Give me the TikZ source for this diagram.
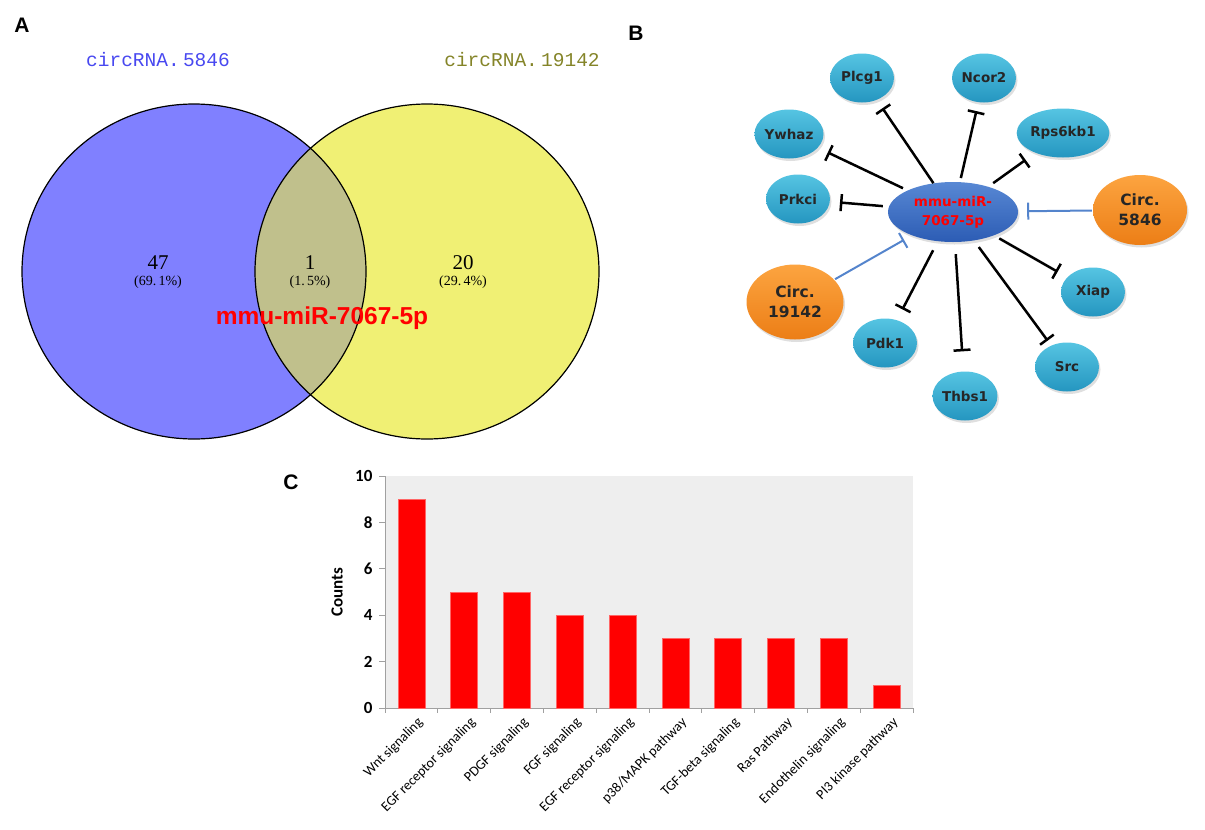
\documentclass[tikz,border=0pt]{standalone}
\usepackage{fontspec}
\setmainfont{Liberation Sans}
\newfontfamily\vennfont{Liberation Mono}
\newfontfamily\numfont{Liberation Serif}
\newfontfamily\netfont{DejaVu Sans}
\newfontfamily\chartfont{Carlito}
\usetikzlibrary{arrows.meta,shapes,shadows}
\definecolor{vennblue}{RGB}{128,128,255}
\definecolor{vennyellow}{RGB}{240,240,116}
\definecolor{vennboth}{RGB}{192,192,140}
\definecolor{labblue}{RGB}{72,72,240}
\definecolor{labolive}{RGB}{132,132,40}
\definecolor{tealtop}{RGB}{86,196,226}
\definecolor{tealbot}{RGB}{36,150,192}
\definecolor{orangetop}{RGB}{252,164,64}
\definecolor{orangebot}{RGB}{236,126,22}
\definecolor{mirtop}{RGB}{88,136,212}
\definecolor{mirbot}{RGB}{44,92,180}
\definecolor{circline}{RGB}{84,132,204}
\definecolor{chartbg}{RGB}{238,238,238}
\definecolor{axisgrey}{RGB}{160,160,160}
\tikzstyle{panel}=[font=\bfseries\fontsize{21}{24}\selectfont]
\tikzstyle{setlabel}=[font=\vennfont\fontsize{19.5}{22}\selectfont]
\tikzstyle{count}=[font=\numfont\fontsize{21}{23}\selectfont]
\tikzstyle{share}=[font=\numfont\fontsize{14}{16}\selectfont]
\tikzstyle{target}=[ellipse,minimum width=64pt,minimum height=49pt,inner sep=0pt,
  top color=tealtop,bottom color=tealbot,text=black!85,
  drop shadow={shadow xshift=1.5pt,shadow yshift=-2.5pt,opacity=0.25},
  font=\netfont\bfseries\fontsize{13.5}{15}\selectfont]
\tikzstyle{circ}=[target,minimum width=94pt,minimum height=70pt,
  top color=orangetop,bottom color=orangebot,
  font=\netfont\bfseries\fontsize{15.5}{20}\selectfont,align=center]
\tikzstyle{mirna}=[target,minimum width=130pt,minimum height=60pt,
  top color=mirtop,bottom color=mirbot,text=red,
  font=\netfont\bfseries\fontsize{13.5}{19}\selectfont,align=center]
\tikzstyle{inhibit}=[draw,line width=2.5pt,-{Bar[width=17pt,line width=2.5pt]}]
\tikzstyle{circedge}=[draw,circline,line width=2pt,-{Bar[width=17pt,line width=2pt]},
  shorten <=1pt,shorten >=9pt]
\tikzstyle{ytick}=[font=\chartfont\bfseries\fontsize{17}{19}\selectfont,anchor=east]
\tikzstyle{xlab}=[font=\chartfont\fontsize{14}{15}\selectfont,rotate=45,anchor=north east,inner sep=0pt]
\tikzstyle{bar}=[fill=red,draw=red!60!white,line width=0.6pt]

\begin{document}
\begin{tikzpicture}[x=1pt,y=-1pt]
    \useasboundingbox (0,0) rectangle (1205,830);
    % A: the Venn diagram
    \node[panel] (labA) at (22,25) {A};
    \fill[vennblue] (194,271.5) ellipse [x radius=172,y radius=167.5];
    \fill[vennyellow] (427,271.5) ellipse [x radius=172,y radius=167.5];
    \begin{scope}
        \clip (194,271.5) ellipse [x radius=172,y radius=167.5];
        \fill[vennboth] (427,271.5) ellipse [x radius=172,y radius=167.5];
    \end{scope}
    \draw[line width=1.2pt] (194,271.5) ellipse [x radius=172,y radius=167.5];
    \draw[line width=1.2pt] (427,271.5) ellipse [x radius=172,y radius=167.5];
    \node[setlabel,text=labblue] (setA) at (158,60) {circRNA.\,5846};
    \node[setlabel,text=labolive] (setB) at (522,60) {circRNA.\,19142};
    \foreach \x/\n/\p/\name in {158/47/69.\,1/onlyA, 310/1/1.\,5/both, 463/20/29.\,4/onlyB} {
        \node[count] (\name) at (\x,263) {\n};
        \node[share] (\name p) at (\x,282) {(\p\%)};
    }
    \node[text=red,font=\bfseries\fontsize{24.5}{28}\selectfont] (shared) at (322,318) {mmu-miR-7067-5p};

    % B: the regulatory network
    \node[panel] (labB) at (636,33) {B};
    \node[mirna] (mir) at (953,212) {mmu-miR-\\7067-5p};
    \foreach \pos/\name in {{(862,78)/Plcg1}, {(984,78)/Ncor2}, {(1063,133)/Rps6kb1},
        {(789,134)/Ywhaz}, {(798,199)/Prkci}, {(1093,292)/Xiap}, {(885,343)/Pdk1},
        {(965,396)/Thbs1}, {(1067,367)/Src}}
        \node[target] (\name) at \pos {\name};
    \node[circ] (c5846) at (1140,210) {Circ.\\5846};
    \node[circ,minimum width=97pt,minimum height=75pt] (c19142) at (795,302) {Circ.\\19142};
    % Inhibitions from the miRNA to its targets
    \foreach \dest/\ga/\gb in {Plcg1/0/10, Ncor2/4/9, Rps6kb1/6/12, Ywhaz/5/11, Prkci/6/10,
        Xiap/6/11, Pdk1/10/12, Thbs1/12/20, Src/8/6}
        \path[inhibit,shorten <=\ga pt,shorten >=\gb pt] (mir) -- (\dest);
    % Inhibitions from the circRNAs to the miRNA
    \foreach \source in {c5846, c19142}
        \path[circedge] (\source) -- (mir);

    % C: the pathway counts
    \node[panel] (labC) at (291,482) {C};
    \fill[chartbg] (385,476) rectangle (913,708);
    \draw[axisgrey,line width=0.8pt] (385,476) -- (385,708) -- (913,708);
    \foreach \v in {0,2,...,10} {
        \draw[axisgrey,line width=0.8pt] (379,{708-23.2*\v}) -- (385,{708-23.2*\v});
        \node[ytick] (yt\v) at (376,{708-23.2*\v}) {\v};
    }
    \foreach \i in {0,...,10}
        \draw[axisgrey,line width=0.8pt] ({385+52.8*\i},708) -- ++(0,5);
    \node[font=\chartfont\bfseries\fontsize{17}{19}\selectfont,rotate=90] (ylab) at (337,592) {Counts};
    \foreach \i/\val/\lab in {0/9/Wnt signaling, 1/5/EGF receptor signaling, 2/5/PDGF signaling,
        3/4/FGF signaling, 4/4/EGF receptor signaling, 5/3/{p38/MAPK pathway},
        6/3/TGF-beta signaling, 7/3/Ras Pathway, 8/3/Endothelin signaling, 9/1/PI3 kinase pathway} {
        \pgfmathsetmacro\xc{385+26.4+52.8*\i}
        \path[bar] ({\xc-13.5},708) rectangle ({\xc+13.5},{708-23.2*\val});
        \node[xlab] (xl\i) at ({\xc+5},716) {\lab};
    }
\end{tikzpicture}
\end{document}
